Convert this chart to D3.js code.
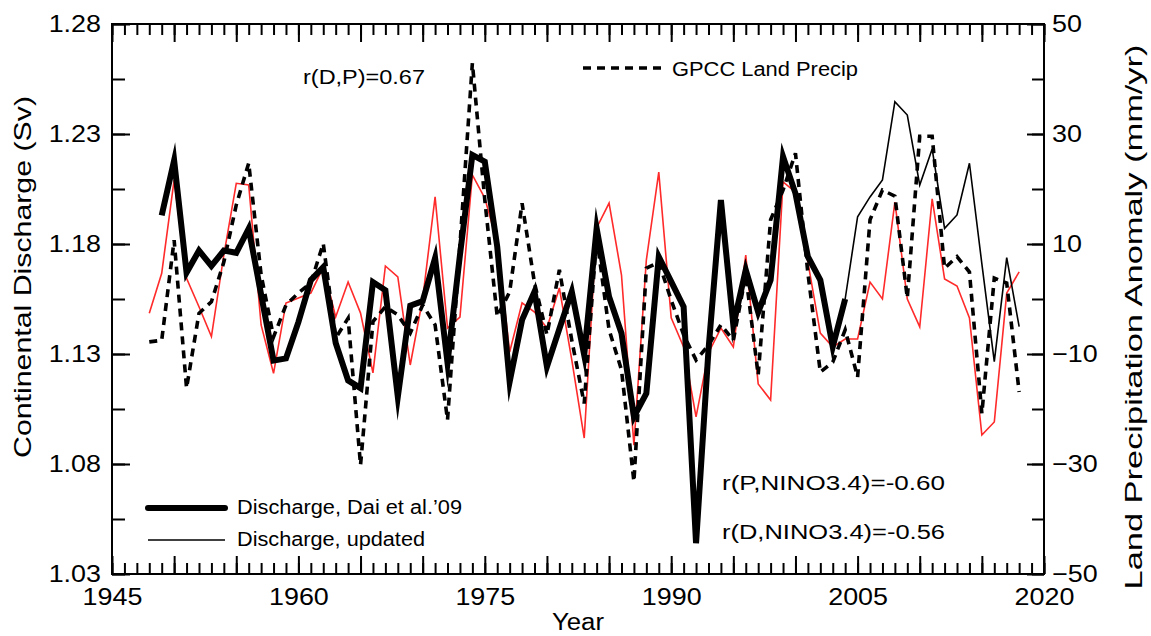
<!DOCTYPE html>
<html>
<head>
<meta charset="utf-8">
<script src="https://cdn.jsdelivr.net/npm/d3@7"></script>
<style>
  body { margin: 0; background: #fff; }
  svg { display: block; }
  text { font-family: "Liberation Sans", Arial, Helvetica, sans-serif; fill: #000; }
</style>
</head>
<body>
<svg id="chart" width="1151" height="636"></svg>
<script>
// ---- data -------------------------------------------------------------
// Continental discharge (Sv), Dai et al. 2009, 1949-2004
const daiStart = 1949;
const daiDischarge = [
  1.193, 1.218, 1.167, 1.177, 1.170, 1.177, 1.176, 1.187, 1.157, 1.127,
  1.128, 1.1445, 1.1636, 1.1695, 1.135, 1.118, 1.1145, 1.1627, 1.159, 1.1105,
  1.152, 1.154, 1.1736, 1.126, 1.175, 1.2205, 1.2174, 1.1788, 1.1174, 1.1455,
  1.1583, 1.1242, 1.1414, 1.1583, 1.1295, 1.1871, 1.156, 1.1394, 1.1015, 1.1121,
  1.1742, 1.1629, 1.1515, 1.044, 1.1318, 1.200, 1.1432, 1.1682, 1.149, 1.1636,
  1.2197, 1.203, 1.1742, 1.1636, 1.1333, 1.155
];
// Continental discharge (Sv), updated record, 2004-2018
const updStart = 2004;
const updDischarge = [
  1.155, 1.1924, 1.2014, 1.2091, 1.2447, 1.2386, 1.2068, 1.2232, 1.1871, 1.1932,
  1.2167, 1.171, 1.1265, 1.1738, 1.1424
];
// Continental discharge (Sv), red curve, 1948-2018
const redStart = 1948;
const redDischarge = [
  1.1485, 1.1667, 1.2091, 1.1644, 1.1515, 1.1379, 1.175, 1.2076, 1.2068, 1.1432,
  1.1212, 1.1532, 1.1555, 1.1577, 1.1695, 1.1468, 1.1627, 1.1486, 1.1214, 1.170,
  1.165, 1.125, 1.155, 1.2014, 1.1418, 1.1468, 1.2114, 1.2009, 1.1805, 1.1309,
  1.1532, 1.1491, 1.1418, 1.160, 1.1273, 1.0918, 1.1873, 1.1986, 1.1659, 1.0886,
  1.1727, 1.2127, 1.1464, 1.1332, 1.1014, 1.1305, 1.1418, 1.1332, 1.175, 1.1164,
  1.1091, 1.2082, 1.2036, 1.1718, 1.1395, 1.1332, 1.1368, 1.1368, 1.1627, 1.155,
  1.1991, 1.155, 1.1423, 1.2005, 1.1641, 1.1609, 1.1464, 1.0932, 1.0991, 1.1577,
  1.1673
];
// GPCC land precipitation anomaly (mm/yr), 1948-2018
const gpccStart = 1948;
const gpccPrecip = [
  -7.8, -7.5, 10.7, -16.2, -2.6, -0.5, 6.7, 17.1, 24.7, 4.4,
  -6.9, -1.1, 1.1, 2.9, 10.1, -7.1, -3.5, -30.2, -4.1, -1.4,
  -2.9, -6.2, -1.1, -4.7, -22.0, 9.8, 42.9, 18.0, -3.2, 1.3,
  17.4, 2.9, -6.5, 5.3, -7.5, -19.0, 11.3, -5.6, -12.9, -33.2,
  5.6, 6.7, -0.2, -6.5, -11.1, -8.4, -4.7, -7.5, 4.4, -13.8,
  14.4, 19.8, 26.5, 4.7, -13.3, -11.5, -5.6, -14.2, 14.4, 19.8,
  18.7, 0.2, 29.6, 29.6, 5.6, 7.7, 4.9, -20.8, 3.8, 2.9,
  -16.9
];
// axis ticks
const yearLabels = [1945, 1960, 1975, 1990, 2005, 2020];
const leftLabels = [1.03, 1.08, 1.13, 1.18, 1.23, 1.28];
const rightLabels = [-50, -30, -10, 10, 30, 50];

// ---- layout -----------------------------------------------------------
const svg = d3.select("#chart");
const plot = { left: 112, right: 1044, top: 24, bottom: 574 };

const x = d3.scaleLinear().domain([1945, 2020]).range([plot.left, plot.right]);
const yL = d3.scaleLinear().domain([1.03, 1.28]).range([plot.bottom, plot.top]);
const yR = d3.scaleLinear().domain([-50, 50]).range([plot.bottom, plot.top]);

// widen glyphs horizontally, as the typeface of the figure is broad
function stretch(sel, k) {
  sel.each(function () {
    const w = this.getComputedTextLength();
    this.setAttribute("textLength", (w * k).toFixed(2));
    this.setAttribute("lengthAdjust", "spacingAndGlyphs");
  });
}

const toPoints = (start, vals) => vals.map((v, i) => ({ year: start + i, v }));

// ---- series -----------------------------------------------------------
const lineL = d3.line().x(d => x(d.year)).y(d => yL(d.v));
const lineR = d3.line().x(d => x(d.year)).y(d => yR(d.v));

const g = svg.append("g");

g.append("path")
  .datum(toPoints(redStart, redDischarge))
  .attr("d", lineL)
  .attr("fill", "none")
  .attr("stroke", "#ff2a2a")
  .attr("stroke-width", 1.6)
  .attr("stroke-linejoin", "miter");

g.append("path")
  .datum(toPoints(gpccStart, gpccPrecip))
  .attr("d", lineR)
  .attr("fill", "none")
  .attr("stroke", "#000")
  .attr("stroke-width", 3.6)
  .attr("stroke-dasharray", "8,6");

g.append("path")
  .datum(toPoints(updStart, updDischarge))
  .attr("d", lineL)
  .attr("fill", "none")
  .attr("stroke", "#000")
  .attr("stroke-width", 1.6)
  .attr("stroke-linejoin", "miter");

g.append("path")
  .datum(toPoints(daiStart, daiDischarge))
  .attr("d", lineL)
  .attr("fill", "none")
  .attr("stroke", "#000")
  .attr("stroke-width", 6)
  .attr("stroke-linejoin", "miter")
  .attr("stroke-miterlimit", 10);

// ---- axes -------------------------------------------------------------
const axisStyle = sel => {
  sel.select(".domain").remove();
  sel.selectAll(".tick line").attr("stroke", "#000").attr("stroke-width", 2);
};

const minorYears = d3.range(1945, 2021, 1);
const majorYears = d3.range(1945, 2021, 5);

// bottom
svg.append("g").attr("transform", `translate(0,${plot.bottom})`)
  .call(d3.axisBottom(x).tickValues(minorYears).tickSize(-11).tickFormat(""))
  .call(axisStyle);
const xb = svg.append("g").attr("transform", `translate(0,${plot.bottom})`)
  .call(d3.axisBottom(x).tickValues(majorYears).tickSize(-18)
        .tickFormat(d => yearLabels.includes(d) ? d : "").tickPadding(14))
  .call(axisStyle);
xb.selectAll("text").attr("font-size", 24).attr("dy", "0.71em");

// top
svg.append("g").attr("transform", `translate(0,${plot.top})`)
  .call(d3.axisTop(x).tickValues(minorYears).tickSize(-11).tickFormat(""))
  .call(axisStyle);
svg.append("g").attr("transform", `translate(0,${plot.top})`)
  .call(d3.axisTop(x).tickValues(majorYears).tickSize(-18).tickFormat(""))
  .call(axisStyle);

// left
svg.append("g").attr("transform", `translate(${plot.left},0)`)
  .call(d3.axisLeft(yL).tickValues(d3.range(0, 11).map(i => 1.03 + i * 0.025)).tickSize(-13).tickFormat(""))
  .call(axisStyle);
const yl = svg.append("g").attr("transform", `translate(${plot.left},0)`)
  .call(d3.axisLeft(yL).tickValues(leftLabels).tickSize(-18).tickFormat(d3.format(".2f")).tickPadding(11))
  .call(axisStyle);
yl.selectAll("text").attr("font-size", 24);

// right
svg.append("g").attr("transform", `translate(${plot.right},0)`)
  .call(d3.axisRight(yR).tickValues(d3.range(-50, 51, 10)).tickSize(-12).tickFormat(""))
  .call(axisStyle);
const yr = svg.append("g").attr("transform", `translate(${plot.right},0)`)
  .call(d3.axisRight(yR).tickValues(rightLabels).tickSize(-17)
        .tickFormat(d => d < 0 ? "\u2212" + Math.abs(d) : d).tickPadding(8))
  .call(axisStyle);
yr.selectAll("text").attr("font-size", 24);

// frame
svg.append("rect")
  .attr("x", plot.left).attr("y", plot.top)
  .attr("width", plot.right - plot.left).attr("height", plot.bottom - plot.top)
  .attr("fill", "none").attr("stroke", "#000").attr("stroke-width", 2);

stretch(svg.selectAll(".tick text"), 1.12);

// ---- titles -----------------------------------------------------------
svg.append("text")
  .attr("x", 578).attr("y", 630).attr("text-anchor", "middle")
  .attr("font-size", 23).text("Year")
  .call(stretch, 1.12);

svg.append("text")
  .attr("transform", "translate(31,277) rotate(-90)")
  .attr("text-anchor", "middle").attr("font-size", 24)
  .text("Continental Discharge (Sv)")
  .call(sel => sel.attr("textLength", 362).attr("lengthAdjust", "spacingAndGlyphs"));

svg.append("text")
  .attr("transform", "translate(1142,317) rotate(-90)")
  .attr("text-anchor", "middle").attr("font-size", 24)
  .text("Land Precipitation Anomaly (mm/yr)")
  .call(sel => sel.attr("textLength", 545).attr("lengthAdjust", "spacingAndGlyphs"));

// ---- annotations ------------------------------------------------------
const note = (tx, ty, str, w) => svg.append("text")
  .attr("x", tx).attr("y", ty).attr("font-size", 20).text(str)
  .attr("textLength", w).attr("lengthAdjust", "spacingAndGlyphs");

note(303, 84, "r(D,P)=0.67", 122);
note(722, 490, "r(P,NINO3.4)=-0.60", 223);
note(722, 539, "r(D,NINO3.4)=-0.56", 223);

// legend: precipitation
svg.append("line")
  .attr("x1", 583).attr("x2", 662).attr("y1", 68).attr("y2", 68)
  .attr("stroke", "#000").attr("stroke-width", 3.6).attr("stroke-dasharray", "8,6");
note(672, 76, "GPCC Land Precip", 186);

// legend: discharge
svg.append("line")
  .attr("x1", 148).attr("x2", 225).attr("y1", 508).attr("y2", 508)
  .attr("stroke", "#000").attr("stroke-width", 6).attr("stroke-linecap", "round");
note(237, 514, "Discharge, Dai et al.\u201909", 225);
svg.append("line")
  .attr("x1", 148).attr("x2", 225).attr("y1", 540).attr("y2", 540)
  .attr("stroke", "#000").attr("stroke-width", 1.6);
note(237, 546, "Discharge, updated", 188);
</script>
</body>
</html>
